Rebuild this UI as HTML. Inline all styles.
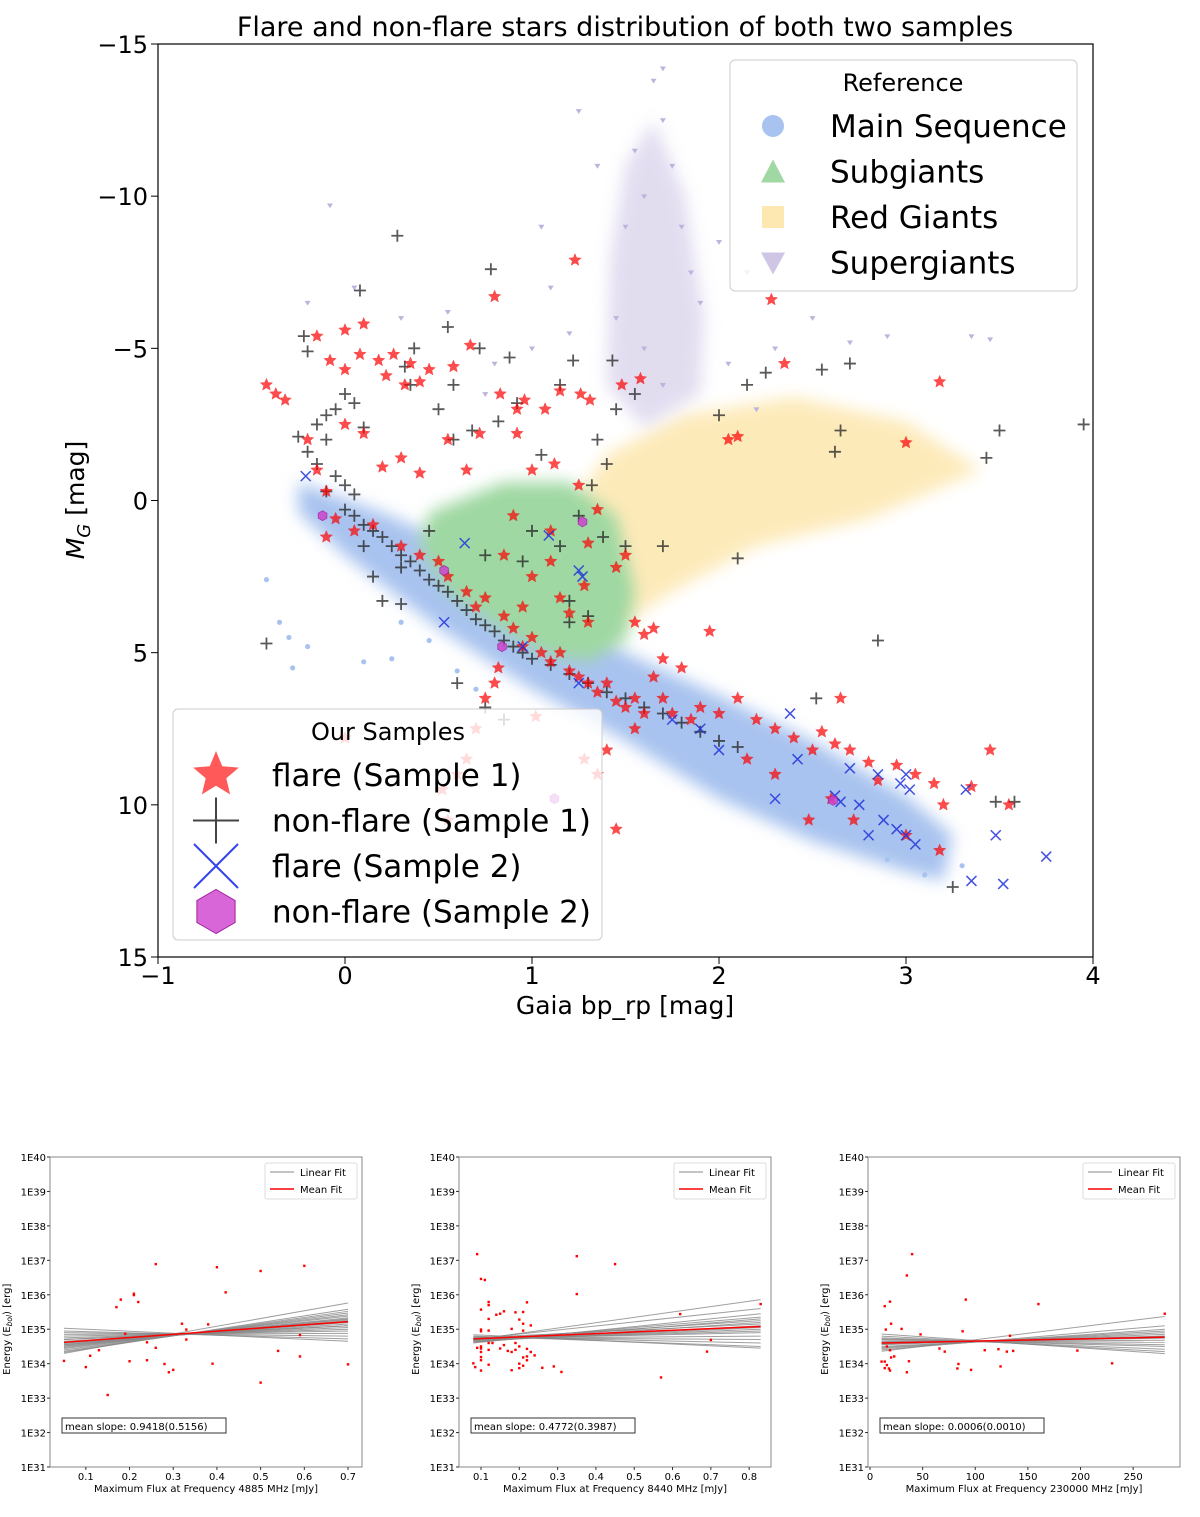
<!DOCTYPE html>
<html><head><meta charset="utf-8"><style>
body{margin:0;background:#fff}
svg text{font-family:"DejaVu Sans","Liberation Sans",sans-serif}
</style></head><body>
<svg id="s" width="1200" height="1512" viewBox="0 0 1200 1512" xmlns="http://www.w3.org/2000/svg">
<defs>
<filter id="blur" x="-20%" y="-20%" width="140%" height="140%"><feGaussianBlur stdDeviation="8"/></filter>
<clipPath id="mainclip"><rect x="158" y="44" width="935" height="913"/></clipPath>
</defs>
<text x="625" y="36" font-size="27" text-anchor="middle">Flare and non-flare stars distribution of both two samples</text>
<g id="main"></g>
<g id="p1"></g>
<g id="p2"></g>
<g id="p3"></g>
</svg>
<script>
// ---------- main chart data (bp_rp, M_G) ----------
const xTicks=[-1,0,1,2,3,4];
const yTicks=[-15,-10,-5,0,5,10,15];
const msCloud=[[-0.25,-0.6],[0.2,0.4],[0.5,1.2],[1,3],[1.5,5],[2,6.4],[2.5,7.9],[3,9.7],[3.25,11],[3.2,12.5],[3,12.2],[2.5,11.2],[2,9.8],[1.5,7.9],[1,6.2],[0.5,4.2],[0,1.8],[-0.25,0.4]];
const sgCloud=[[0.45,0.4],[0.85,-0.6],[1.2,-0.6],[1.45,0.5],[1.55,3],[1.5,4.6],[1.3,5.3],[1.05,5.0],[0.8,4.1],[0.55,3],[0.4,1.5]];
const rgCloud=[[1.1,1.2],[1.4,-1.5],[1.8,-2.8],[2.4,-3.4],[3.0,-2.6],[3.4,-1.0],[2.8,0.6],[2.2,1.5],[1.75,3],[1.45,4.2],[1.2,3]];
const sgiCloud=[[1.5,-11],[1.65,-12.5],[1.82,-10],[1.92,-6],[1.9,-3.5],[1.6,-2.4],[1.4,-3.8],[1.42,-8]];
const msDots=[[-0.42,2.6],[-0.35,4.0],[-0.3,4.5],[-0.28,5.5],[-0.2,4.8],[0.1,5.3],[0.25,5.2],[0.45,4.6],[0.6,5.6],[0.3,4.0],[0.7,6.2],[3.3,12.0],[3.1,12.3],[2.9,11.8]];
const sgiDots=[[-0.08,-9.7],[-0.2,-6.5],[0.05,-7.0],[0.3,-6.0],[0.55,-6.2],[1.25,-12.8],[1.05,-9.0],[2.15,-7.5],[2.5,-6.0],[2.7,-5.2],[2.9,-5.4],[3.35,-5.4],[3.45,-5.3],[1.6,-10],[1.8,-9],[1.2,-5.5],[1.0,-5.0],[0.8,-4.5],[0.75,-3.5],[2.2,-3.0],[1.9,-6.5],[2.05,-4.5],[2.3,-5.0],[1.65,-13.8],[1.7,-14.2],[1.55,-11.5],[1.7,-12.5],[1.35,-11],[2.0,-8.5],[1.1,-7],[1.5,-9],[1.75,-11],[1.45,-6],[1.85,-7.5],[1.6,-5],[1.7,-3.8]];
const flare1=[[-0.42,-3.8],[-0.37,-3.5],[-0.32,-3.3],[-0.15,-5.4],[0,-5.6],[0.1,-5.8],[-0.08,-4.6],[0,-4.3],[0.08,-4.8],[0.18,-4.6],[0.26,-4.8],[0.22,-4.1],[0.32,-3.8],[0.35,-4.5],[0.4,-3.9],[0.45,-4.3],[0.58,-4.4],[0.67,-5.1],[0.8,-6.7],[0.83,-3.5],[0.92,-3.0],[0.96,-3.3],[1.07,-3.0],[1.15,-3.6],[1.23,-7.9],[1.26,-3.5],[1.31,-3.3],[1.48,-3.8],[1.58,-4.0],[2.28,-6.6],[3.18,-3.9],[3.0,-1.9],[2.05,-2.0],[2.1,-2.1],[2.35,-4.5],[0.72,-2.2],[0.92,-2.2],[0.55,-2.0],[0.65,-1.0],[0.2,-1.1],[0.3,-1.4],[0.4,-0.9],[1.0,-1.0],[1.12,-1.2],[1.25,-0.5],[1.35,0.3],[-0.2,-2.0],[-0.15,-1.0],[-0.1,-0.3],[-0.05,0.6],[0.0,-2.5],[0.1,-2.2],[-0.1,1.2],[0.05,1.0],[0.15,0.8],
[0.3,1.5],[0.4,1.8],[0.5,2.0],[0.55,2.5],[0.65,3.0],[0.75,3.2],[0.85,3.8],[0.9,4.2],[0.95,4.8],[1.0,4.5],[1.05,5.0],[1.1,5.3],[1.15,5.0],[1.2,5.6],[1.25,5.8],[1.3,6.0],[1.35,6.3],[1.4,6.0],[1.45,6.6],[1.5,6.8],[1.55,6.5],[1.6,7.0],[1.65,5.8],[1.7,6.5],[1.75,7.0],[1.85,7.2],[1.9,6.8],[2.0,7.0],[2.1,6.5],[2.2,7.2],[2.3,7.5],[2.4,7.8],[2.5,8.2],[2.55,7.6],[2.62,8.0],[2.7,8.2],[2.8,8.6],[2.85,9.2],[2.95,8.7],[3.05,9.0],[3.15,9.3],[3.2,10.0],[3.35,9.4],[3.45,8.2],[3.55,10.0],[3.0,11.0],[3.18,11.5],[2.72,10.5],[2.65,6.5],[2.6,9.8],[2.48,10.5],[2.3,9.0],[2.15,8.5],
[0.85,1.8],[0.95,3.5],[1.0,2.5],[1.1,2.0],[1.15,3.2],[1.2,3.7],[1.28,2.8],[1.3,4.0],[0.7,3.5],[0.9,0.5],[1.1,1.0],[1.3,1.4],[1.5,1.8],[1.45,2.2],[1.55,4.0],[1.6,4.4],[1.65,4.2],[1.95,4.3],[1.7,5.2],[1.8,5.5],
[0.82,5.5],[0.8,6.0],[0.75,6.5],[0.7,7.5],[0.65,8.5],[0.6,9.0],[0.55,10.5],[1.28,8.5],[1.45,10.8],[1.35,9.0],[1.4,8.2],[1.55,7.5],[0.0,7.8],[0.52,9.5],[1.02,7.1]];
const nonflare1=[[-0.22,-5.4],[-0.2,-4.9],[0.08,-6.9],[0.28,-8.7],[0.78,-7.6],[0.55,-5.7],[0.37,-5.0],[0.32,-4.4],[0.35,-3.8],[0.0,-3.5],[-0.05,-3.0],[0.05,-3.2],[-0.1,-2.8],[-0.15,-2.5],[-0.25,-2.1],[-0.1,-2.0],[0.1,-2.4],[-0.2,-1.6],[-0.15,-1.2],[-0.05,-0.8],[0.0,-0.5],[0.05,-0.2],[-0.1,-0.3],[0.0,0.3],[0.05,0.5],[0.1,0.8],[0.15,1.0],[0.2,1.2],[0.25,1.5],[0.3,1.8],[0.35,2.0],[0.4,2.3],[0.45,2.6],[0.5,2.8],[0.55,3.0],[0.6,3.3],[0.65,3.6],[0.7,3.9],[0.75,4.1],[0.8,4.3],[0.85,4.6],[0.9,4.8],[0.95,5.0],[1.0,5.2],[1.1,5.4],[1.2,5.7],[1.3,6.0],[1.4,6.3],[1.5,6.5],[1.6,6.8],[1.7,7.0],[1.8,7.3],[1.9,7.6],[2.0,7.9],[2.1,8.1],[0.15,2.5],[0.3,2.2],[0.2,3.3],[0.1,1.5],[0.45,1.0],[0.58,-2.0],[0.68,-2.3],[0.5,-3.0],[0.58,-3.8],[0.72,-5.0],[0.88,-4.7],[0.92,-3.2],[1.15,-3.8],[1.22,-4.6],[1.43,-4.6],[1.05,-1.5],[1.35,-2.0],[1.4,-1.2],[1.32,-0.5],[1.25,0.5],[1.38,1.2],[1.5,1.5],[1.0,1.0],[0.75,1.8],[0.95,2.0],[1.15,1.5],[1.2,4.0],[1.3,3.8],[1.7,1.5],[1.45,-3.0],[0.82,-2.6],[2.0,-2.8],[2.15,-3.8],[2.25,-4.2],[2.55,-4.3],[2.7,-4.5],[2.65,-2.3],[2.62,-1.6],[3.43,-1.4],[3.5,-2.3],[3.95,-2.5],[2.85,4.6],[2.1,1.9],[2.52,6.5],[3.48,9.9],[3.58,9.9],[3.25,12.7],[1.2,3.3],[-0.42,4.7],[0.6,6.0],[0.75,6.8],[0.85,7.2],[0.3,3.4],[1.55,-3.5]];
const flare2=[[-0.21,-0.8],[0.64,1.4],[1.09,1.15],[1.27,2.5],[1.25,2.3],[0.95,4.8],[0.53,4.0],[1.25,6.0],[1.75,7.2],[1.9,7.5],[2.0,8.2],[2.38,7.0],[2.42,8.5],[2.3,9.8],[2.75,10.0],[2.62,9.7],[2.65,9.9],[2.85,9.0],[2.88,10.5],[2.8,11.0],[2.95,10.8],[3.0,11.0],[3.05,11.3],[3.0,9.0],[3.02,9.5],[2.97,9.3],[3.32,9.5],[3.35,12.5],[3.52,12.6],[3.48,11.0],[3.75,11.7],[2.7,8.8]];
const nonflare2=[[-0.12,0.5],[0.53,2.3],[1.27,0.7],[1.12,9.8],[2.61,9.85],[0.84,4.8]];

// ---------- bottom panels data ----------
const p1Flux=[0.05,0.1,0.11,0.13,0.15,0.17,0.18,0.19,0.2,0.21,0.21,0.22,0.24,0.24,0.26,0.26,0.28,0.29,0.3,0.32,0.33,0.33,0.38,0.39,0.4,0.42,0.5,0.5,0.54,0.59,0.59,0.6,0.7];
const p1LogE=[34.08,33.9,34.23,34.39,33.09,35.64,35.86,34.87,34.07,36.03,35.99,35.79,34.62,34.1,36.89,34.46,33.99,33.75,33.82,35.16,34.99,34.7,35.14,34.0,36.8,36.07,36.69,33.45,34.37,34.83,34.21,36.84,33.98];
const p1FitL=[35.03,34.95,34.9,34.85,34.8,34.75,34.7,34.65,34.62,34.58,34.55,34.52,34.5,34.47,34.44,34.4,34.36,34.33,34.3,34.7,34.6,34.55];
const p1FitR=[34.65,34.72,34.8,34.88,34.95,35.0,35.05,35.1,35.15,35.2,35.25,35.3,35.33,35.38,35.42,35.47,35.52,35.58,35.76,35.1,35.2,35.28];
const p1Mean=[34.62,35.22];
const p2Flux=[0.08,0.085,0.09,0.09,0.1,0.1,0.1,0.1,0.1,0.1,0.1,0.1,0.1,0.1,0.11,0.12,0.12,0.12,0.12,0.12,0.12,0.12,0.13,0.14,0.15,0.15,0.16,0.16,0.17,0.18,0.18,0.18,0.19,0.19,0.19,0.2,0.2,0.2,0.2,0.21,0.21,0.21,0.21,0.21,0.22,0.22,0.22,0.22,0.23,0.23,0.24,0.26,0.29,0.31,0.35,0.35,0.45,0.57,0.62,0.69,0.7,0.83];
const p2LogE=[34.01,33.9,37.18,34.46,36.46,35.57,34.99,34.94,34.5,34.44,34.34,34.19,34.1,33.8,36.43,35.79,35.7,35.3,34.96,34.6,34.4,33.97,34.6,35.42,35.45,34.44,35.52,34.54,34.37,35.01,34.34,33.81,35.49,34.6,34.4,35.28,34.5,34.0,33.87,35.5,35.16,34.96,34.18,33.94,35.78,34.43,34.21,34.1,35.11,34.34,34.24,33.88,33.92,33.76,37.12,36.02,36.89,33.6,35.44,34.35,34.69,35.73];
const p2FitL=[34.84,34.8,34.78,34.75,34.73,34.72,34.7,34.68,34.67,34.65,34.63,34.62,34.6,34.75,34.7,34.66,34.72,34.69];
const p2FitR=[34.45,34.5,34.6,34.7,34.8,34.9,34.95,35.0,35.05,35.1,35.2,35.3,35.45,35.15,35.25,35.35,35.6,35.86];
const p2Mean=[34.72,35.08];
const p3Flux=[11,14,14,14,15,16,16,18,19,19,19,20,20,23,30,35,35,37,40,48,66,71,83,84,88,91,96,109,122,124,130,133,136,160,197,230,280];
const p3LogE=[34.06,34.06,33.87,35.67,34.99,34.5,33.96,33.86,35.8,33.8,34.39,35.16,34.18,34.21,35.01,36.56,33.75,34.07,37.18,34.85,34.44,34.35,33.86,33.99,34.94,35.86,33.82,34.39,34.42,33.92,34.35,34.81,34.37,35.73,34.38,34.01,35.45];
const p3FitL=[34.86,34.8,34.75,34.72,34.7,34.66,34.63,34.6,34.58,34.55,34.5,34.47,34.44,34.4,34.36,34.62,34.57];
const p3FitR=[34.29,34.35,34.42,34.5,34.55,34.62,34.68,34.74,34.8,34.85,34.9,34.95,35.0,35.1,35.37,34.75,34.8];
const p3Mean=[34.6,34.77];

const NS="http://www.w3.org/2000/svg";
function mk(tag,attrs,parent){const e=document.createElementNS(NS,tag);for(const k in attrs)e.setAttribute(k,attrs[k]);parent.appendChild(e);return e;}

// ---------- main chart ----------
const M={x0:158,x1:1093,y0:44,y1:957,xmin:-1,xmax:4,ymin:-15,ymax:15};
const X=v=>M.x0+(v-M.xmin)/(M.xmax-M.xmin)*(M.x1-M.x0);
const Y=v=>M.y0+(v-M.ymin)/(M.ymax-M.ymin)*(M.y1-M.y0);
const g=document.getElementById('main');
const plot=mk('g',{'clip-path':'url(#mainclip)'},g);


function cloud(pts,fill,op,name){
  const p=mk('polygon',{points:pts.map(q=>X(q[0])+','+Y(q[1])).join(' '),fill:fill,opacity:op,filter:'url(#blur)'},plot);
  
  
}
cloud(rgCloud,'#fde8b2',0.9,'red-giants-cloud');
cloud(sgiCloud,'#cfc6e6',0.6,'supergiants-cloud');
cloud(msCloud,'#a8c3ef',1,'main-sequence-cloud');
cloud(sgCloud,'#9fd8a2',1,'subgiants-cloud');
msDots.forEach(d=>{const c=mk('circle',{cx:X(d[0]),cy:Y(d[1]),r:2.6,fill:'#a8c3ef'},plot);
  
  });
function tri(cx,cy,r){return `${cx-r},${cy-r*0.6} ${cx+r},${cy-r*0.6} ${cx},${cy+r}`;}
sgiDots.forEach(d=>{const c=mk('polygon',{points:tri(X(d[0]),Y(d[1]),3),fill:'#bdb3dc'},plot);
  
  });
function starPts(cx,cy,R){const r=R*0.45;let s=[];for(let i=0;i<10;i++){const a=-Math.PI/2+i*Math.PI/5;const rr=i%2?r:R;s.push((cx+rr*Math.cos(a)).toFixed(1)+','+(cy+rr*Math.sin(a)).toFixed(1));}return s.join(' ');}
function hexPts(cx,cy,R){let s=[];for(let i=0;i<6;i++){const a=Math.PI/2+i*Math.PI/3;s.push((cx+R*Math.cos(a)).toFixed(1)+','+(cy+R*Math.sin(a)).toFixed(1));}return s.join(' ');}
nonflare1.forEach(d=>{const x=X(d[0]),y=Y(d[1]);
  const c=mk('path',{d:`M${x-6},${y}H${x+6}M${x},${y-6}V${y+6}`,stroke:'#222',"stroke-width":1.8,opacity:0.75},plot);
  
  });
flare1.forEach(d=>{const c=mk('polygon',{points:starPts(X(d[0]),Y(d[1]),6.5),fill:'#f00',stroke:'#e00','stroke-width':0.5,opacity:0.7},plot);
  
  });
flare2.forEach(d=>{const x=X(d[0]),y=Y(d[1]);
  const c=mk('path',{d:`M${x-5},${y-5}L${x+5},${y+5}M${x-5},${y+5}L${x+5},${y-5}`,stroke:'#2233dd',"stroke-width":1.5,opacity:0.85},plot);
  
  });
nonflare2.forEach(d=>{const c=mk('polygon',{points:hexPts(X(d[0]),Y(d[1]),5),fill:'#cc44cc',stroke:'#a020a0','stroke-width':0.8,opacity:0.85},plot);
  
  });
// axes
const fr=mk('rect',{x:M.x0,y:M.y0,width:M.x1-M.x0,height:M.y1-M.y0,fill:'none',stroke:'#000','stroke-width':1.2},g);


xTicks.forEach(t=>{mk('line',{x1:X(t),x2:X(t),y1:M.y1,y2:M.y1+7,stroke:'#000'},g);
  const tx=mk('text',{x:X(t),y:M.y1+27,'font-size':24,'text-anchor':'middle'},g);tx.textContent=(t<0?'\u2212'+(-t):t);
  
  });
yTicks.forEach(t=>{mk('line',{x1:M.x0-7,x2:M.x0,y1:Y(t),y2:Y(t),stroke:'#000'},g);
  const tx=mk('text',{x:M.x0-10,y:Y(t)+9,'font-size':24,'text-anchor':'end'},g);tx.textContent=(t<0?'\u2212'+(-t):t);
  
  });
let t=mk('text',{x:625,y:1014,'font-size':25,'text-anchor':'middle'},g);t.textContent='Gaia bp_rp [mag]';


t=mk('text',{x:0,y:0,'font-size':25,'text-anchor':'middle',transform:'translate(84,500) rotate(-90)'},g);
t.innerHTML='<tspan font-style="italic">M</tspan><tspan font-size="18" dy="6" font-style="italic">G</tspan><tspan dy="-6"> [mag]</tspan>';


// reference legend
const lg=mk('g',{},g);


mk('rect',{x:730,y:60,width:347,height:231,rx:5,fill:'#fff','fill-opacity':0.8,stroke:'#ccc'},lg);
t=mk('text',{x:903,y:91,'font-size':24,'text-anchor':'middle'},lg);t.textContent='Reference';
const refItems=[['Main Sequence','#a8c3ef','c'],['Subgiants','#9fd8a2','t'],['Red Giants','#fde8b2','s'],['Supergiants','#cfc6e6','v']];
refItems.forEach((it,i)=>{const y=126+i*45.5;
  if(it[2]=='c')mk('circle',{cx:773,cy:y,r:11,fill:it[1]},lg);
  if(it[2]=='t')mk('polygon',{points:`761,${y+11} 785,${y+11} 773,${y-12}`,fill:it[1]},lg);
  if(it[2]=='s')mk('rect',{x:762,y:y-11,width:22,height:22,fill:it[1]},lg);
  if(it[2]=='v')mk('polygon',{points:`761,${y-10} 785,${y-10} 773,${y+12}`,fill:it[1]},lg);
  const tx=mk('text',{x:830,y:y+11,'font-size':31},lg);tx.textContent=it[0];
  
  });
// samples legend
const sl=mk('g',{},g);


mk('rect',{x:173,y:709,width:429,height:231,rx:5,fill:'#fff','fill-opacity':0.8,stroke:'#ccc'},sl);
t=mk('text',{x:388,y:740,'font-size':24,'text-anchor':'middle'},sl);t.textContent='Our Samples';
const sItems=['flare (Sample 1)','non-flare (Sample 1)','flare (Sample 2)','non-flare (Sample 2)'];
sItems.forEach((s,i)=>{const y=775+i*45.5;
  if(i==0)mk('polygon',{points:starPts(216,y,24),fill:'#f00',opacity:0.65},sl);
  if(i==1)mk('path',{d:`M193,${y}H239M216,${y-23}V${y+23}`,stroke:'#444','stroke-width':2},sl);
  if(i==2)mk('path',{d:`M194,${y-22}L238,${y+22}M194,${y+22}L238,${y-22}`,stroke:'#3344ee','stroke-width':2},sl);
  if(i==3)mk('polygon',{points:hexPts(216,y,22),fill:'#d966d9',stroke:'#a020a0'},sl);
  const tx=mk('text',{x:272,y:y+11,'font-size':31},sl);tx.textContent=s;
  
  });

// ---------- bottom panels ----------
function panel(id,L,R,xmin,xmax,xt,xlab,flux,logE,fitL,fitR,mean,fx0,fx1,slope){
  const gp=document.getElementById(id);const T=1157,B=1467;
  const px=v=>L+(v-xmin)/(xmax-xmin)*(R-L);
  const py=v=>B-(v-31)/9*(B-T);
  const fr=mk('rect',{x:L,y:T,width:R-L,height:B-T,fill:'none',stroke:'#888','stroke-width':1},gp);
  
  
  for(let k=31;k<=40;k++){mk('line',{x1:L-3,x2:L,y1:py(k),y2:py(k),stroke:'#333'},gp);
    const tx=mk('text',{x:L-4,y:py(k)+4,'font-size':10,'text-anchor':'end'},gp);tx.textContent='1E'+k;
    
    }
  xt.forEach(v=>{mk('line',{x1:px(v),x2:px(v),y1:B,y2:B+3,stroke:'#333'},gp);
    const tx=mk('text',{x:px(v),y:B+13,'font-size':10,'text-anchor':'middle'},gp);tx.textContent=v;
    
    });
  let tx=mk('text',{x:(L+R)/2,y:B+25,'font-size':10,'text-anchor':'middle'},gp);tx.textContent=xlab;
  
  
  tx=mk('text',{x:0,y:0,'font-size':10,'text-anchor':'middle',transform:`translate(${L-40},${py(35)}) rotate(-90)`},gp);
  tx.innerHTML='Energy (E<tspan font-size="7.5" dy="2" font-style="italic">bol</tspan><tspan dy="-2">) [erg]</tspan>';
  
  
  fitL.forEach((a,i)=>{const l=mk('line',{x1:px(fx0),y1:py(a),x2:px(fx1),y2:py(fitR[i]),stroke:'#888','stroke-width':1,opacity:0.8},gp);
    
    });
  const ml=mk('line',{x1:px(fx0),y1:py(mean[0]),x2:px(fx1),y2:py(mean[1]),stroke:'#f00','stroke-width':1.5},gp);
  
  
  flux.forEach((f,i)=>{const c=mk('rect',{x:px(f)-1.2,y:py(logE[i])-1.2,width:2.4,height:2.4,fill:'#f00'},gp);
    
    });
  const lx=R-97;
  const lgd=mk('g',{},gp);
  
  
  mk('rect',{x:lx,y:T+6,width:92,height:36,rx:2,fill:'#fff',stroke:'#ddd'},lgd);
  mk('line',{x1:lx+5,x2:lx+29,y1:T+15,y2:T+15,stroke:'#888'},lgd);
  mk('line',{x1:lx+5,x2:lx+29,y1:T+32,y2:T+32,stroke:'#f00','stroke-width':1.5},lgd);
  let a=mk('text',{x:lx+35,y:T+19,'font-size':10},lgd);a.textContent='Linear Fit';
  a=mk('text',{x:lx+35,y:T+36,'font-size':10},lgd);a.textContent='Mean Fit';
  const sb=mk('g',{},gp);
  
  
  mk('rect',{x:L+12,y:1418,width:164,height:15,fill:'#fff',stroke:'#333'},sb);
  a=mk('text',{x:L+15,y:1430,'font-size':10},sb);a.textContent='mean slope: '+slope;
}
panel('p1',50,362,0.018,0.732,[0.1,0.2,0.3,0.4,0.5,0.6,0.7],'Maximum Flux at Frequency 4885 MHz [mJy]',p1Flux,p1LogE,p1FitL,p1FitR,p1Mean,0.05,0.7,'0.9418(0.5156)');
panel('p2',459,771,0.0426,0.857,[0.1,0.2,0.3,0.4,0.5,0.6,0.7,0.8],'Maximum Flux at Frequency 8440 MHz [mJy]',p2Flux,p2LogE,p2FitL,p2FitR,p2Mean,0.08,0.83,'0.4772(0.3987)');
panel('p3',868,1180,-1.9,294.5,[0,50,100,150,200,250],'Maximum Flux at Frequency 230000 MHz [mJy]',p3Flux,p3LogE,p3FitL,p3FitR,p3Mean,11,280,'0.0006(0.0010)');
</script>
</body></html>
